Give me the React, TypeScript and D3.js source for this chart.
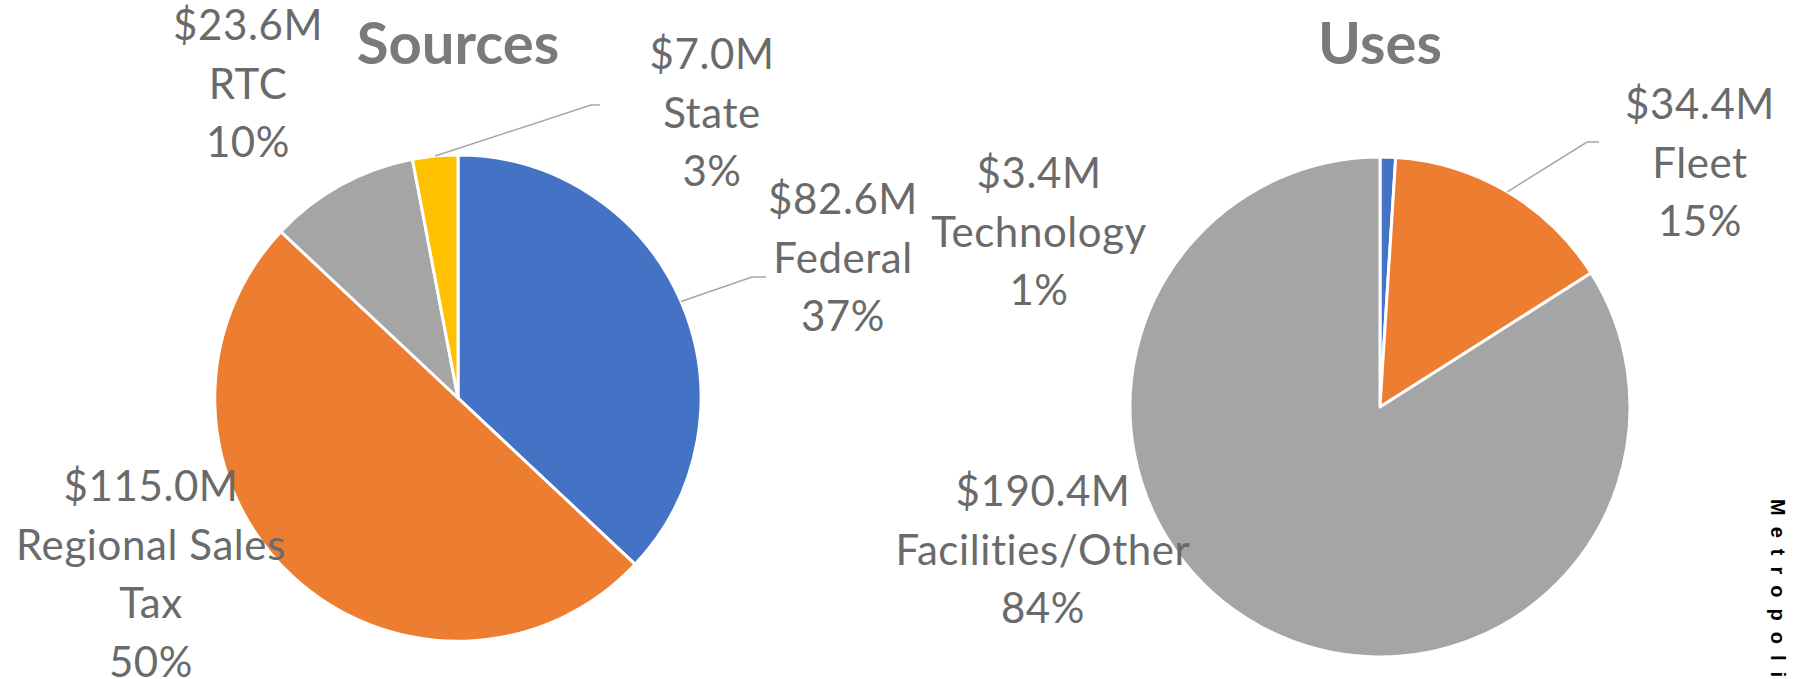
import { useEffect, useRef } from 'react';
import * as d3 from 'd3';

// Sources of funds
const sourceCategories = ['Federal', 'Regional Sales\nTax', 'RTC', 'State'];
const sourceAmounts = ['$82.6M', '$115.0M', '$23.6M', '$7.0M'];
const sourceShares = [37, 50, 10, 3];

// Uses of funds
const useCategories = ['Technology', 'Fleet', 'Facilities/Other'];
const useAmounts = ['$3.4M', '$34.4M', '$190.4M'];
const useShares = [1, 15, 84];

const sliceColors = ['#4472C4', '#ED7D31', '#A5A5A5', '#FFC000'];

const WIDTH = 1798;
const HEIGHT = 679;

type Slice = { name: string; amount: string; share: number };

type PieLayout = {
    title: string;
    cx: number;
    cy: number;
    r: number;
    // first-line baseline of each label, relative to the pie centre
    labelPos: [number, number][];
    // leader line bend / end, relative to the label's first baseline
    leaders: ({ bend: [number, number]; end: [number, number] } | null)[];
};

const sourcesLayout: PieLayout = {
    title: 'Sources',
    cx: 458,
    cy: 398,
    r: 243,
    labelPos: [[385, -184], [-307, 103], [-210, -358], [254, -329]],
    leaders: [
        { bend: [-91, 63], end: [-77, 63] },
        null,
        null,
        { bend: [-121, 36], end: [-112, 36] },
    ],
};

const usesLayout: PieLayout = {
    title: 'Uses',
    cx: 1380,
    cy: 407,
    r: 250,
    labelPos: [[-341, -219], [320, -288], [-337, 99]],
    leaders: [
        null,
        { bend: [-113, 23], end: [-101, 23] },
        null,
    ],
};

const LABEL_FONT = 'Lato, "Open Sans", sans-serif';
const LINE_H = 58.5;

const App = () => {
    const svgRef = useRef<SVGSVGElement>(null);

    useEffect(() => {
        const svg = d3.select(svgRef.current);
        svg.selectAll('*').remove();

        svg.append('rect')
            .attr('width', WIDTH)
            .attr('height', HEIGHT)
            .attr('fill', '#ffffff');

        const drawPie = (data: Slice[], layout: PieLayout) => {
            const g = svg.append('g')
                .attr('transform', `translate(${layout.cx},${layout.cy})`);

            const pie = d3.pie<Slice>()
                .sort(null)
                .value(d => d.share);

            const arc = d3.arc<d3.PieArcDatum<Slice>>()
                .innerRadius(0)
                .outerRadius(layout.r);

            const arcs = pie(data);

            g.selectAll('path.slice')
                .data(arcs)
                .join('path')
                .attr('class', 'slice')
                .attr('d', arc)
                .attr('fill', (_d, i) => sliceColors[i])
                .attr('stroke', '#ffffff')
                .attr('stroke-width', 3)
                .attr('stroke-linejoin', 'round');

            // leader lines
            arcs.forEach((a, i) => {
                const leader = layout.leaders[i];
                if (!leader) return;
                const mid = (a.startAngle + a.endAngle) / 2;
                const sx = Math.sin(mid) * layout.r;
                const sy = -Math.cos(mid) * layout.r;
                const [lx, ly] = layout.labelPos[i];
                const pts: [number, number][] = [
                    [sx, sy],
                    [lx + leader.bend[0], ly + leader.bend[1]],
                    [lx + leader.end[0], ly + leader.end[1]],
                ];
                g.append('path')
                    .attr('d', d3.line()(pts))
                    .attr('fill', 'none')
                    .attr('stroke', '#A6A6A6')
                    .attr('stroke-width', 1.5);
            });

            // data labels
            arcs.forEach((a, i) => {
                const [lx, ly] = layout.labelPos[i];
                const lines = [a.data.amount, ...a.data.name.split('\n'), `${a.data.share}%`];
                const text = g.append('text')
                    .attr('x', lx)
                    .attr('y', ly)
                    .attr('text-anchor', 'middle')
                    .style('font-family', LABEL_FONT)
                    .style('font-size', '42px')
                    .style('letter-spacing', '0.6px')
                    .style('font-variant-ligatures', 'none')
                    .attr('fill', '#6a6a6a');
                lines.forEach((line, j) => {
                    text.append('tspan')
                        .attr('x', lx)
                        .attr('y', ly + j * LINE_H)
                        .text(line);
                });
            });

            // title
            svg.append('text')
                .attr('x', layout.cx)
                .attr('y', 64)
                .attr('text-anchor', 'middle')
                .style('font-family', LABEL_FONT)
                .style('font-size', '58px')
                .style('font-weight', 'bold')
                .attr('fill', '#7a7a7a')
                .text(layout.title);
        };

        drawPie(
            sourceCategories.map((name, i) => ({ name, amount: sourceAmounts[i], share: sourceShares[i] })),
            sourcesLayout
        );
        drawPie(
            useCategories.map((name, i) => ({ name, amount: useAmounts[i], share: useShares[i] })),
            usesLayout
        );

        // side caption of the slide, clipped by the right edge as in the original
        svg.append('text')
            .attr('transform', 'translate(1771,499) rotate(90)')
            .style('font-family', '"Liberation Sans", Arial, sans-serif')
            .style('font-size', '20px')
            .style('font-weight', 'bold')
            .style('letter-spacing', '11px')
            .attr('fill', '#000000')
            .text('Metropolitan');
    }, []);

    return (
        <svg
            ref={svgRef}
            width={WIDTH}
            height={HEIGHT}
            style={{ position: 'absolute', left: 0, top: 0, display: 'block' }}
        />
    );
};

export default App;
